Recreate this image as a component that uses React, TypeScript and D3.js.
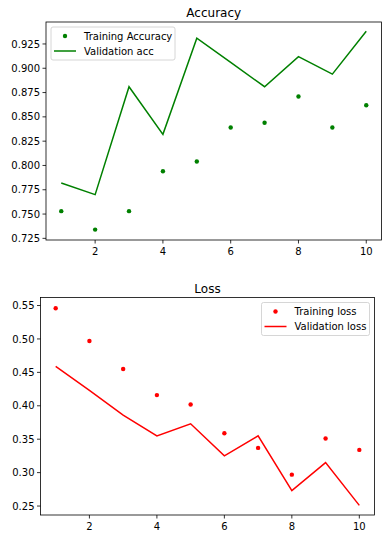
import React from 'react';
import * as d3 from 'd3';

const epochs = [1, 2, 3, 4, 5, 6, 7, 8, 9, 10];
const trainAcc = [0.753, 0.734, 0.753, 0.794, 0.804, 0.839, 0.844, 0.871, 0.839, 0.862];
const valAcc = [0.782, 0.770, 0.881, 0.832, 0.931, 0.906, 0.881, 0.912, 0.894, 0.938];
const trainLoss = [0.546, 0.497, 0.455, 0.416, 0.402, 0.359, 0.337, 0.297, 0.351, 0.334];
const valLoss = [0.459, 0.423, 0.386, 0.355, 0.373, 0.325, 0.355, 0.273, 0.315, 0.251];
const xTicks = [2, 4, 6, 8, 10];
const accTicks = [0.725, 0.75, 0.775, 0.8, 0.825, 0.85, 0.875, 0.9, 0.925];
const lossTicks = [0.25, 0.3, 0.35, 0.4, 0.45, 0.5, 0.55];

const font = 'DejaVu Sans, sans-serif';

type PanelProps = {
  title: string;
  box: { left: number; top: number; right: number; bottom: number };
  yDomain: [number, number];
  yTicks: number[];
  yFmt: (v: number) => string;
  train: number[];
  val: number[];
  color: string;
  labels: [string, string];
  legend: { x: number; y: number; w: number };
};

const Panel = ({ title, box, yDomain, yTicks, yFmt, train, val, color, labels, legend }: PanelProps) => {
  const x = d3.scaleLinear().domain([0.55, 10.45]).range([box.left, box.right]);
  const y = d3.scaleLinear().domain(yDomain).range([box.bottom, box.top]);
  const line = d3.line<number>().x((_, i) => x(epochs[i])).y(d => y(d));
  return (
    <g>
      <text x={(box.left + box.right) / 2} y={box.top - 5} textAnchor="middle" fontSize={12} fontFamily={font} fill="#000">{title}</text>
      <path d={line(val) ?? ''} fill="none" stroke={color} strokeWidth={1.5} />
      {train.map((v, i) => (
        <circle key={i} cx={x(epochs[i])} cy={y(v)} r={2.2} fill={color} />
      ))}
      <rect x={box.left} y={box.top} width={box.right - box.left} height={box.bottom - box.top} fill="none" stroke="#000" strokeWidth={0.8} />
      {xTicks.map(t => (
        <g key={t}>
          <line x1={x(t)} x2={x(t)} y1={box.bottom} y2={box.bottom + 3.5} stroke="#000" strokeWidth={0.8} />
          <text x={x(t)} y={box.bottom + 15} textAnchor="middle" fontSize={10} fontFamily={font} fill="#000">{t}</text>
        </g>
      ))}
      {yTicks.map(t => (
        <g key={t}>
          <line x1={box.left - 3.5} x2={box.left} y1={y(t)} y2={y(t)} stroke="#000" strokeWidth={0.8} />
          <text x={box.left - 6} y={y(t) + 3.6} textAnchor="end" fontSize={10} fontFamily={font} fill="#000">{yFmt(t)}</text>
        </g>
      ))}
      <g transform={`translate(${legend.x},${legend.y})`}>
        <rect x={0} y={0} width={legend.w} height={33} rx={2} fill="#fff" fillOpacity={0.8} stroke="#ccc" strokeWidth={0.8} />
        <circle cx={14} cy={9} r={2.2} fill={color} />
        <line x1={3} x2={25} y1={24} y2={24} stroke={color} strokeWidth={1.5} />
        <text x={33} y={12.5} fontSize={10} fontFamily={font} fill="#000">{labels[0]}</text>
        <text x={33} y={27.5} fontSize={10} fontFamily={font} fill="#000">{labels[1]}</text>
      </g>
    </g>
  );
};

export default function App() {
  return (
    <svg width={387} height={538} style={{ display: 'block', position: 'absolute', left: 0, top: 0, background: '#fff' }}>
      <Panel
        title="Accuracy"
        box={{ left: 46, top: 22, right: 381.5, bottom: 240 }}
        yDomain={[0.7233, 0.9476]}
        yTicks={accTicks}
        yFmt={d3.format('.3f')}
        train={trainAcc}
        val={valAcc}
        color="#008000"
        labels={['Training Accuracy', 'Validation acc']}
        legend={{ x: 51, y: 27, w: 124 }}
      />
      <Panel
        title="Loss"
        box={{ left: 40.5, top: 297.5, right: 374.5, bottom: 515 }}
        yDomain={[0.2366, 0.562]}
        yTicks={lossTicks}
        yFmt={d3.format('.2f')}
        train={trainLoss}
        val={valLoss}
        color="#ff0000"
        labels={['Training loss', 'Validation loss']}
        legend={{ x: 261.5, y: 302.5, w: 108 }}
      />
    </svg>
  );
}
